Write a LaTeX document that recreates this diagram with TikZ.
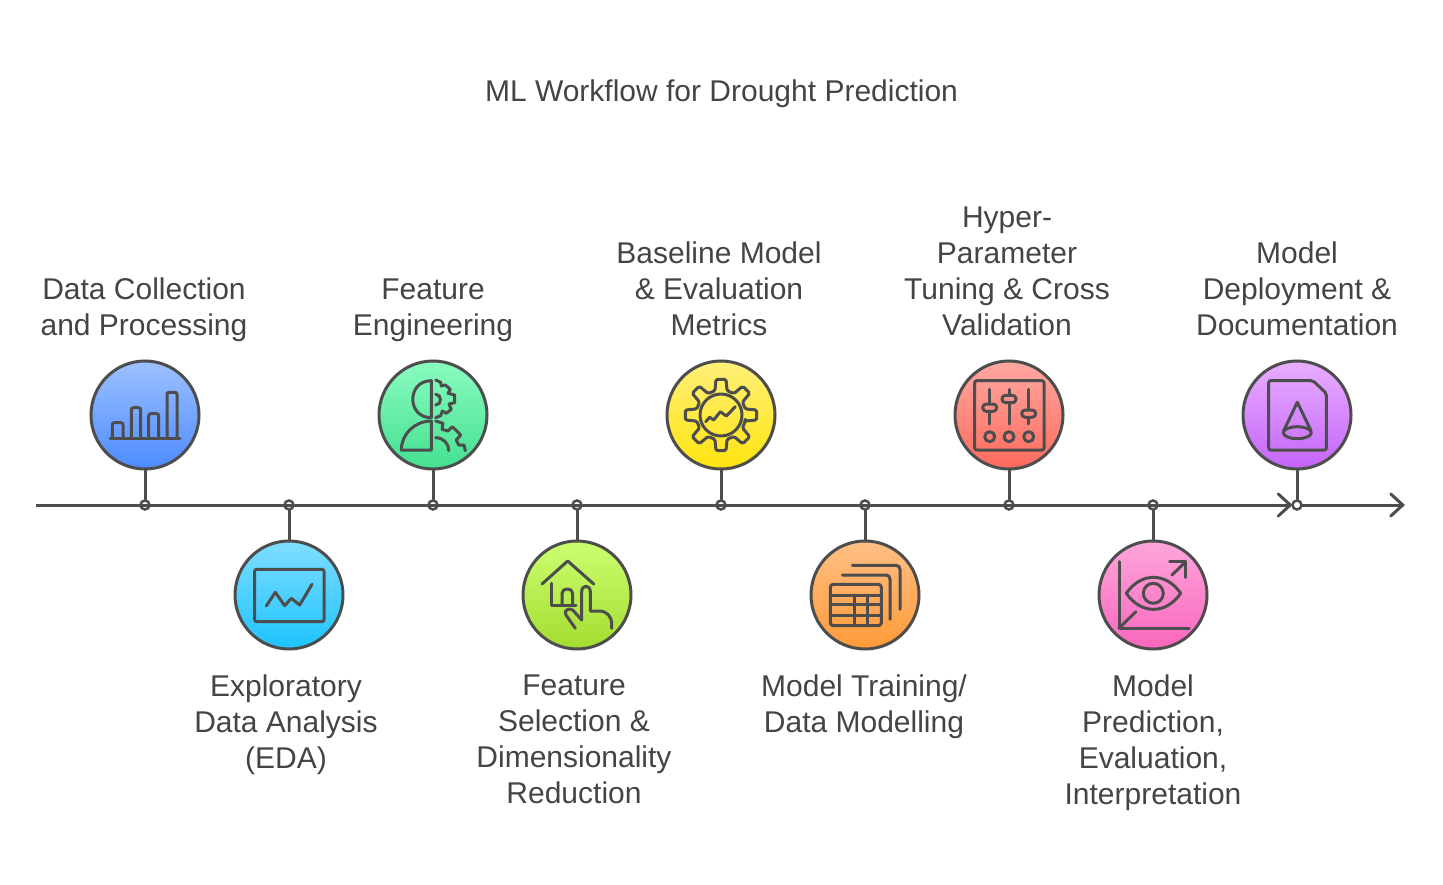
\documentclass[tikz,border=0pt]{standalone}
\usepackage{fontspec}
\setmainfont{Liberation Sans}
\usepackage{xcolor}
\usetikzlibrary{shapes,arrows.meta}
\usetikzlibrary{positioning}
\definecolor{ink}{HTML}{4D4D4D}
\definecolor{inktext}{HTML}{444444}
\tikzstyle{tick} = [circle, draw=ink, line width=2.5pt, minimum size=9pt, inner sep=0pt, outer sep=0pt]
\tikzstyle{tick_end} = [tick, fill=white]
\tikzstyle{stage} = [circle, draw=ink, line width=3pt, minimum size=108pt, inner sep=0pt, outer sep=0pt]
\tikzstyle{stage_blue} = [stage, top color={rgb,255:red,157;green,193;blue,255}, bottom color={rgb,255:red,76;green,139;blue,255}]
\tikzstyle{stage_cyan} = [stage, top color={rgb,255:red,128;green,221;blue,255}, bottom color={rgb,255:red,28;green,196;blue,255}]
\tikzstyle{stage_green} = [stage, top color={rgb,255:red,138;green,252;blue,192}, bottom color={rgb,255:red,68;green,224;blue,144}]
\tikzstyle{stage_lime} = [stage, top color={rgb,255:red,204;green,255;blue,112}, bottom color={rgb,255:red,164;green,220;blue,48}]
\tikzstyle{stage_yellow} = [stage, top color={rgb,255:red,255;green,240;blue,122}, bottom color={rgb,255:red,255;green,228;blue,14}]
\tikzstyle{stage_orange} = [stage, top color={rgb,255:red,255;green,191;blue,133}, bottom color={rgb,255:red,255;green,154;blue,56}]
\tikzstyle{stage_red} = [stage, top color={rgb,255:red,255;green,168;blue,160}, bottom color={rgb,255:red,255;green,106;blue,94}]
\tikzstyle{stage_pink} = [stage, top color={rgb,255:red,255;green,166;blue,220}, bottom color={rgb,255:red,248;green,102;blue,188}]
\tikzstyle{stage_purple} = [stage, top color={rgb,255:red,232;green,174;blue,255}, bottom color={rgb,255:red,196;green,100;blue,250}]
\tikzstyle{caption} = [align=center, text=inktext, inner sep=0pt, font=\fontsize{30}{36}\selectfont,
    execute at begin node=\strut, execute at end node=\strut]
\tikzstyle{line} = [draw=ink, line width=3pt]
\tikzstyle{axis} = [line, -{Straight Barb[length=12pt,width=22pt,line cap=round]}]
\tikzstyle{icon} = [draw=ink, line width=3pt, line cap=round, line join=round]

\begin{document}
\begin{tikzpicture}[x=1pt, y=-1pt, node distance = 135pt]
    \useasboundingbox (0,0) rectangle (1443,885);
    % Place nodes
    \node [caption] (title) at (721.5,94.4) {ML Workflow for Drought Prediction};

    \node [tick] (t1) at (145,505) {};
    \node [tick, right=of t1] (t2) {};
    \node [tick, right=of t2] (t3) {};
    \node [tick, right=of t3] (t4) {};
    \node [tick, right=of t4] (t5) {};
    \node [tick, right=of t5] (t6) {};
    \node [tick, right=of t6] (t7) {};
    \node [tick, right=of t7] (t8) {};
    \node [tick_end, right=of t8] (t9) {};
    \coordinate [left=104.5pt of t1] (axisStart);
    \coordinate [right=103.5pt of t9] (axisEnd);

    \node [stage_blue, above=31.5pt of t1] (data) {};
    \node [stage_cyan, below=31.5pt of t2] (eda) {};
    \node [stage_green, above=31.5pt of t3] (engineering) {};
    \node [stage_lime, below=31.5pt of t4] (selection) {};
    \node [stage_yellow, above=31.5pt of t5] (baseline) {};
    \node [stage_orange, below=31.5pt of t6] (training) {};
    \node [stage_red, above=31.5pt of t7] (tuning) {};
    \node [stage_pink, below=31.5pt of t8] (prediction) {};
    \node [stage_purple, above=31.5pt of t9] (deployment) {};

    \node [caption, above=14.5pt of data, xshift=-1pt] (dataText) {Data Collection\\and Processing};
    \node [caption, below=25.6pt of eda, xshift=-3pt] (edaText) {Exploratory\\Data Analysis\\(EDA)};
    \node [caption, above=14.5pt of engineering] (engineeringText) {Feature\\Engineering};
    \node [caption, below=25.6pt of selection, xshift=-3pt] (selectionText) {Feature\\Selection \&\\Dimensionality\\Reduction};
    \node [caption, above=14.5pt of baseline, xshift=-2pt] (baselineText) {Baseline Model\\\& Evaluation\\Metrics};
    \node [caption, below=25.6pt of training, xshift=-1pt] (trainingText) {Model Training/\\Data Modelling};
    \node [caption, above=14.5pt of tuning, xshift=-2pt] (tuningText) {Hyper-\\Parameter\\Tuning \& Cross\\Validation};
    \node [caption, below=25.6pt of prediction] (predictionText) {Model\\Prediction,\\Evaluation,\\Interpretation};
    \node [caption, above=14.5pt of deployment] (deploymentText) {Model\\Deployment \&\\Documentation};

    % Draw edges
    \path [axis] (axisStart) -- (t9);
    \path [axis] (t9) -- (axisEnd);
    \path [line] (data) -- (t1);
    \path [line] (eda) -- (t2);
    \path [line] (engineering) -- (t3);
    \path [line] (selection) -- (t4);
    \path [line] (baseline) -- (t5);
    \path [line] (training) -- (t6);
    \path [line] (tuning) -- (t7);
    \path [line] (prediction) -- (t8);
    \path [line] (deployment) -- (t9);

    % Icons
    \begin{scope}[shift={(data.center)}]
        \draw [icon] (-35,23.3) -- (35,23.3);
        \draw [icon, rounded corners=2pt] (-32.7,23.3) -- (-32.7,7.7) -- (-22,7.7) -- (-22,23.3);
        \draw [icon, rounded corners=2pt] (-13.7,23.3) -- (-13.7,-7.3) -- (-4.3,-7.3) -- (-4.3,23.3);
        \draw [icon, rounded corners=2pt] (3.7,23.3) -- (3.7,-1.3) -- (13.7,-1.3) -- (13.7,23.3);
        \draw [icon, rounded corners=2pt] (22,23.3) -- (22,-22.7) -- (32,-22.7) -- (32,23.3);
    \end{scope}
    \begin{scope}[shift={(eda.center)}]
        \draw [icon, rounded corners=2pt] (-34.3,-25.7) rectangle (35,26.7);
        \draw [icon] (-22.7,11) -- (-13.7,-2.7) -- (-4.3,10.7) -- (2.3,3.3) -- (10.7,10) -- (23,-10.7);
    \end{scope}
    \begin{scope}[shift={(engineering.center)}]
        \draw [icon] (-1.7,2.7) .. controls (-26.4,2.7) and (-26.4,-34.3) .. (-1.7,-34.3) -- cycle;
        \draw [icon] (-1.7,6) -- (-1.7,35) -- (-31.7,35) .. controls (-31.7,19) and (-18,6) .. (-1.7,6) -- cycle;
        \draw [icon] (2.7,-35) -- (7.7,-32.7) -- (8.3,-29) -- (12.3,-30) -- (17.3,-25.7) -- (15,-21.7) -- (21.7,-20) -- (21.7,-12.3) -- (16,-11) -- (18.3,-5.7) -- (13.3,-1.7) -- (9.3,-4) -- (7.7,.7) -- (2.7,2.7);
        \draw [icon] (2.7,-20.7) .. controls (9,-20.7) and (9,-10) .. (2.7,-10);
        \draw [icon] (2.7,6) -- (10,8.3) -- (9,14.3) -- (15,16) -- (19.3,11.7) -- (27.7,20) -- (23.3,25) -- (25.7,30) -- (31,30) -- (32.3,35.7);
        \draw [icon] (2.7,22.7) .. controls (10,22.7) and (15.7,28) .. (15.7,35.7);
    \end{scope}
    \begin{scope}[shift={(selection.center)}]
        \draw [icon] (-35,-11) -- (-9.3,-34) -- (16.7,-11);
        \draw [icon] (-26,-11.7) -- (-26,10) -- (-1,10);
        \draw [icon] (-15,10) -- (-15,-1.7) .. controls (-15,-7.5) and (-4.3,-7.5) .. (-4.3,-1.7) -- (-4.3,10);
        \draw [icon] (4.7,25) -- (4.7,-3.3) .. controls (4.7,-10.5) and (13.3,-10.5) .. (13.3,-3.3) -- (13.3,16) -- (22.3,16) .. controls (30,16) and (34.7,22) .. (34.7,28.3) -- (34.7,33.3);
        \draw [icon] (4.7,25) -- (-4.3,15) .. controls (-8,12) and (-14,16) .. (-11,20) -- (-1.7,33.3);
    \end{scope}
    \begin{scope}[shift={(baseline.center)}]
        \draw [icon, rounded corners=1.5pt] (-14:25pt) \foreach \a in {0,45,...,315} { -- (\a-14:25pt) -- (\a-8:36pt) -- (\a+8:36pt) -- (\a+14:25pt) } -- cycle;
        \draw [icon] (0,0) circle (21pt);
        \draw [icon] (-15.3,6.7) -- (-11.3,2.3) -- (-7.3,5) -- (-.7,-3.3) -- (5.3,1) -- (14.3,-8.3);
    \end{scope}
    \begin{scope}[shift={(training.center)}]
        \draw [icon, rounded corners=3pt] (-34.7,-10.7) rectangle (16.3,30.7);
        \draw [icon] (-34.7,0) -- (16.3,0);
        \draw [icon] (-34.7,9.3) -- (16.3,9.3);
        \draw [icon] (-34.7,20) -- (16.3,20);
        \draw [icon] (-10.3,0) -- (-10.3,30.7);
        \draw [icon] (2.3,0) -- (2.3,30.7);
        \draw [icon, rounded corners=4pt] (-22.7,-20) -- (25,-20) -- (25,24.3);
        \draw [icon, rounded corners=4pt] (-12.7,-29.7) -- (35,-29.7) -- (35,14.3);
    \end{scope}
    \begin{scope}[shift={(tuning.center)}]
        \draw [icon, rounded corners=2pt] (-34.3,-34.3) rectangle (35,35);
        \draw [icon] (-19.3,-25.7) -- (-19.3,-11);
        \draw [icon] (-19.3,-3.7) -- (-19.3,9);
        \draw [icon] (0,-25.7) -- (0,-19.7);
        \draw [icon] (0,-12.3) -- (0,9);
        \draw [icon] (19.7,-25.7) -- (19.7,-5);
        \draw [icon] (19.7,2.3) -- (19.7,9);
        \draw [icon, rounded corners=3.5pt] (-26.3,-11) rectangle (-12.3,-3.7);
        \draw [icon, rounded corners=3.5pt] (-7,-19.7) rectangle (7,-12.3);
        \draw [icon, rounded corners=3.5pt] (12.7,-5) rectangle (26.7,2.3);
        \draw [icon] (-19.3,21.7) circle (5pt);
        \draw [icon] (0,21.7) circle (5pt);
        \draw [icon] (19.7,21.7) circle (5pt);
    \end{scope}
    \begin{scope}[shift={(prediction.center)}]
        \draw [icon] (-34,-33.3) -- (-34,33.3) -- (36,33.3);
        \draw [icon] (-34,33.3) -- (-17.3,16.7);
        \draw [icon] (19,-20) -- (32.7,-33.3);
        \draw [icon] (16.7,-33.3) -- (32.7,-33.3) -- (32.7,-17.7);
        \draw [icon] (-26.7,-1.7) .. controls (-12,-23) and (13,-23) .. (27.7,-1.7) .. controls (13,19.7) and (-12,19.7) .. (-26.7,-1.7) -- cycle;
        \draw [icon] (.3,-1.7) circle (10pt);
    \end{scope}
    \begin{scope}[shift={(deployment.center)}]
        \draw [icon, rounded corners=2pt] (-28.3,-34.3) -- (16,-34.3) -- (29.3,-21.7) -- (29.3,35) -- (-28.3,35) -- cycle;
        \draw [icon] (-13.3,15.7) -- (.3,-12.7) -- (14,15.7);
        \draw [icon] (.3,17.7) ellipse (14pt and 6pt);
    \end{scope}
\end{tikzpicture}
\end{document}
